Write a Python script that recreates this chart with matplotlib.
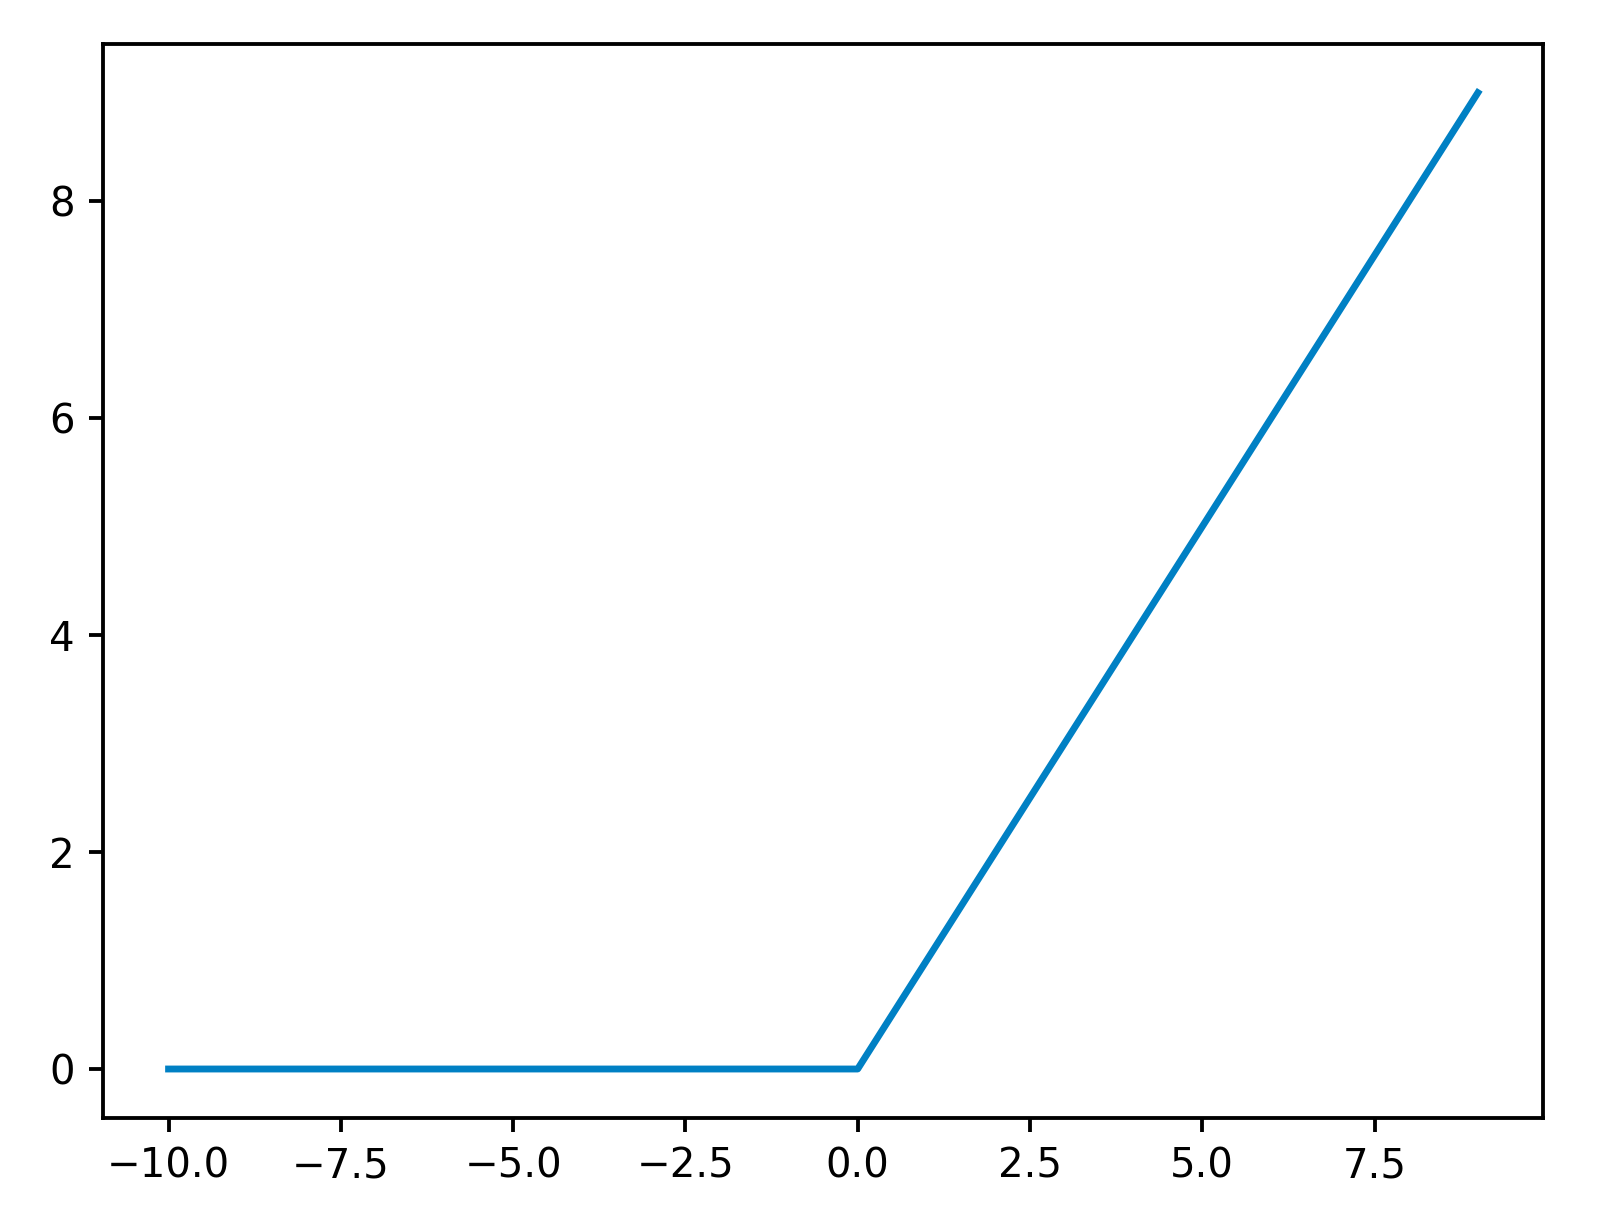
import matplotlib
matplotlib.use("Agg")
import matplotlib.pyplot as plt

# inputs and ReLU outputs
x_vals = [-10, -9, -8, -7, -6, -5, -4, -3, -2, -1, 0, 1, 2, 3, 4, 5, 6, 7, 8, 9]
y_vals = [0, 0, 0, 0, 0, 0, 0, 0, 0, 0, 0, 1, 2, 3, 4, 5, 6, 7, 8, 9]

dpi = 290
fig = plt.figure(figsize=(1611 / dpi, 1219 / dpi), dpi=dpi)
ax = fig.add_axes([0.064, 0.083, 0.894, 0.881])

ax.plot(x_vals, y_vals, color="#0080c4", linewidth=1.7)

for s in ax.spines.values():
    s.set_linewidth(0.95)
ax.tick_params(width=0.95)

fig.savefig("out.png", dpi=dpi)
